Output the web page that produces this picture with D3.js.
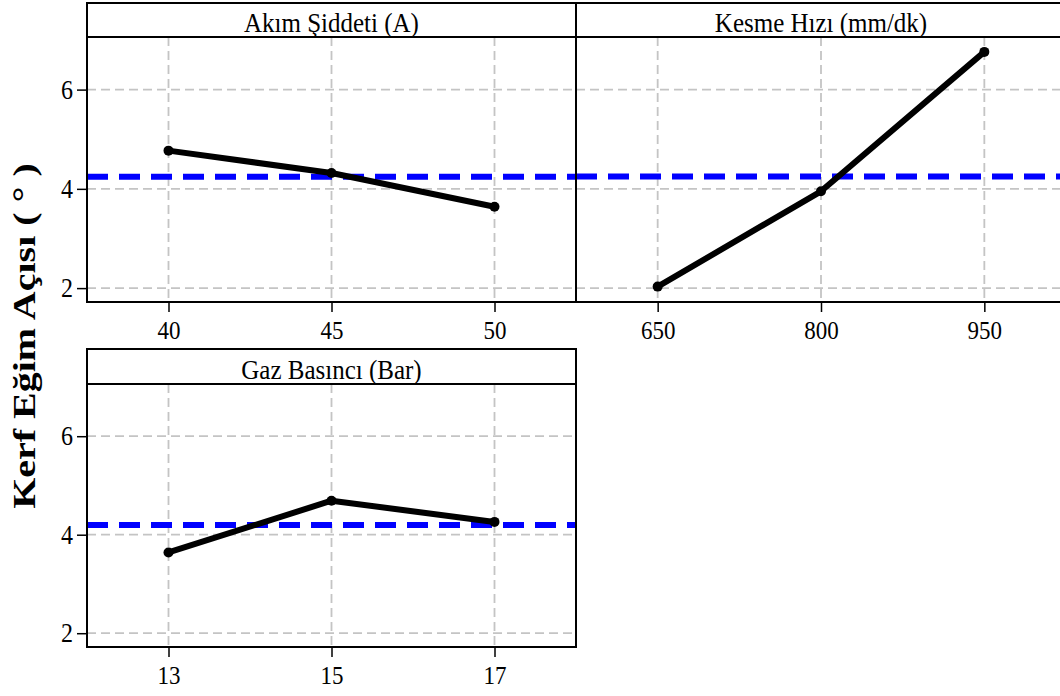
<!DOCTYPE html>
<html>
<head>
<meta charset="utf-8">
<script src="https://cdn.jsdelivr.net/npm/d3@7"></script>
<style>
  body { margin: 0; background: #fff; }
  svg { display: block; }
  svg text { font-family: "Liberation Serif", "Times New Roman", serif; }
</style>
</head>
<body>
<div class="canvas"></div>
<script>
// factor names (panel headers)
const factors = ['Akım Şiddeti (A)', 'Kesme Hızı (mm/dk)', 'Gaz Basıncı (Bar)'];

// factor levels (x ticks)
const akimLevels = [40, 45, 50];
const hizLevels = [650, 800, 950];
const gazLevels = [13, 15, 17];

// mean kerf angle at each level
const akimMeans = [4.77, 4.32, 3.64];
const hizMeans = [2.03, 3.95, 6.76];
const gazMeans = [3.64, 4.69, 4.26];

const yTicks = [2, 4, 6];

const width = 1060, height = 696;
// the original picture is slightly stretched vertically
const stretch = 1.12;

const svg = d3.select('.canvas')
  .append('svg')
  .attr('width', width)
  .attr('height', height);

// panel boxes: left/right/top(strip)/stripBottom/bottom
const panels = [
  { name: factors[0], levels: akimLevels, means: akimMeans, box: [87, 576, 3, 37, 302], pad: 2.5 },
  { name: factors[1], levels: hizLevels, means: hizMeans, box: [576, 1066, 3, 37, 302], pad: 75 },
  { name: factors[2], levels: gazLevels, means: gazMeans, box: [87, 576, 349, 384, 647], pad: 1 }
];

const line = d3.line();

panels.forEach((p, idx) => {
  const [x0, x1, top, stripB, bottom] = p.box;

  const x = d3.scaleLinear()
    .domain([d3.min(p.levels) - p.pad, d3.max(p.levels) + p.pad])
    .range([x0, x1]);

  const y = d3.scaleLinear()
    .domain([1.72, 7.06])
    .range([bottom, stripB]);

  const g = svg.append('g');

  // grid lines
  g.selectAll('.hgrid')
    .data(yTicks)
    .enter()
    .append('line')
    .attr('x1', x0).attr('x2', x1)
    .attr('y1', d => y(d)).attr('y2', d => y(d))
    .attr('stroke', '#c4c4c4')
    .attr('stroke-width', 1.8)
    .attr('stroke-dasharray', '9,5');

  g.selectAll('.vgrid')
    .data(p.levels)
    .enter()
    .append('line')
    .attr('x1', d => x(d)).attr('x2', d => x(d))
    .attr('y1', stripB).attr('y2', bottom)
    .attr('stroke', '#c4c4c4')
    .attr('stroke-width', 1.8)
    .attr('stroke-dasharray', '9,5');

  // overall mean (blue dashed)
  const mean = d3.mean(p.means);
  g.append('line')
    .attr('x1', x0).attr('x2', x1)
    .attr('y1', y(mean)).attr('y2', y(mean))
    .attr('stroke', '#0000ff')
    .attr('stroke-width', 6)
    .attr('stroke-dasharray', '21,11');

  // main effect line
  const pts = p.levels.map((l, i) => [x(l), y(p.means[i])]);
  g.append('path')
    .attr('d', line(pts))
    .attr('fill', 'none')
    .attr('stroke', '#000')
    .attr('stroke-width', 6)
    .attr('stroke-linejoin', 'round');

  g.selectAll('circle')
    .data(pts)
    .enter()
    .append('circle')
    .attr('cx', d => d[0])
    .attr('cy', d => d[1])
    .attr('r', 5)
    .attr('fill', '#000');

  // frame + strip
  g.append('rect')
    .attr('x', x0).attr('y', top)
    .attr('width', x1 - x0).attr('height', bottom - top)
    .attr('fill', 'none')
    .attr('stroke', '#000')
    .attr('stroke-width', 2);

  g.append('line')
    .attr('x1', x0).attr('x2', x1)
    .attr('y1', stripB).attr('y2', stripB)
    .attr('stroke', '#000')
    .attr('stroke-width', 2);

  g.append('text')
    .attr('transform', `translate(${(x0 + x1) / 2}, ${stripB - 5}) scale(1, 1.08)`)
    .attr('text-anchor', 'middle')
    .style('font-size', '25px')
    .text(p.name);

  // x axis
  const xAxis = g.append('g')
    .attr('transform', `translate(0, ${bottom})`)
    .call(d3.axisBottom(x).tickValues(p.levels).tickFormat(d3.format('d'))
      .tickSize(10).tickPadding(7).tickSizeOuter(0));
  xAxis.select('.domain').remove();
  xAxis.selectAll('line').attr('stroke', '#000').attr('stroke-width', 1.5);
  xAxis.selectAll('text')
    .style('font-size', '23px')
    .attr('transform', `scale(1, ${stretch})`)
    .attr('fill', '#000');

  // y axis only on left column
  if (idx !== 1) {
    const yAxis = g.append('g')
      .attr('transform', `translate(${x0}, 0)`)
      .call(d3.axisLeft(y).tickValues(yTicks).tickFormat(d3.format('d'))
        .tickSize(10).tickPadding(4).tickSizeOuter(0));
    yAxis.select('.domain').remove();
    yAxis.selectAll('line').attr('stroke', '#000').attr('stroke-width', 1.5);
    yAxis.selectAll('text')
      .style('font-size', '24px')
      .attr('transform', `scale(1, ${stretch})`)
      .attr('fill', '#000');
  }
});

// y axis title (stretched along its length like the original)
svg.append('text')
  .attr('transform', 'translate(35, 336) rotate(-90) scale(1.29, 1)')
  .attr('text-anchor', 'middle')
  .style('font-size', '31px')
  .style('font-weight', 'bold')
  .text('Kerf Eğim Açısı ( ° )');
</script>
</body>
</html>
